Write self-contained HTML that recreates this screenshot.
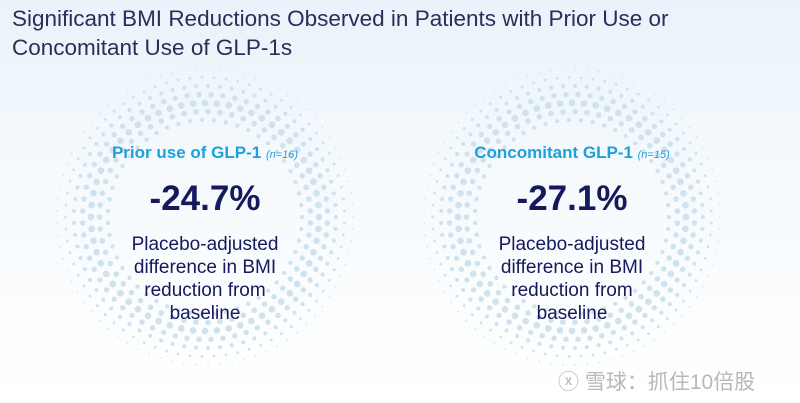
<!DOCTYPE html>
<html><head><meta charset="utf-8"><style>
body{margin:0;width:800px;height:403px;overflow:hidden;font-family:"Liberation Sans","Noto Sans CJK SC",sans-serif;}
#root{position:relative;width:800px;height:403px;background:linear-gradient(180deg,#e9f3fa 0%,#f6fafd 45%,#ffffff 100%);}
h1{position:absolute;left:12px;top:4px;margin:0;font-weight:normal;font-size:22.5px;line-height:29px;color:#2a2f5a;}
svg{position:absolute;left:0;top:0;}
.panel{position:absolute;width:300px;text-align:center;}
.lab{font-weight:bold;color:#1ea0dc;font-size:17px;}
.lab i{font-weight:normal;font-size:11px;}
.big{font-weight:bold;color:#141a5c;font-size:35px;margin-top:16px;}
.desc{color:#141a5c;font-size:19px;line-height:23px;margin-top:14px;}
.wm{position:absolute;left:558px;top:366px;color:#b8b8b8;font-size:21px;}
</style></head><body>
<div id="root">
<h1>Significant BMI Reductions Observed in Patients with Prior Use or<br>Concomitant Use of GLP-1s</h1>
<svg id="dots" width="800" height="403"></svg>
<div class="panel" style="left:55px;top:143px">
<div class="lab">Prior use of GLP-1 <i>(n=16)</i></div>
<div class="big">-24.7%</div>
<div class="desc">Placebo-adjusted<br>difference in BMI<br>reduction from<br>baseline</div>
</div>
<div class="panel" style="left:422px;top:143px">
<div class="lab">Concomitant GLP-1 <i>(n=15)</i></div>
<div class="big">-27.1%</div>
<div class="desc">Placebo-adjusted<br>difference in BMI<br>reduction from<br>baseline</div>
</div>
<div class="wm">ⓧ 雪球：抓住10倍股</div>
</div>
<script>
const centers=[[205,217],[572,217]];
const svg=document.getElementById('dots');
const ns='http://www.w3.org/2000/svg';
for(const [cx,cy] of centers){
  let k=0;
  for(let r=97;r<=152;r+=8.5,k++){
    const t=(r-97)/55;
    const size=Math.max(0.8,3.4-Math.abs(t-0.3)*4.2);
    const n=Math.round(2*Math.PI*r/12);
    const off=(k%2)*0.5;
    for(let i=0;i<n;i++){
      const a=(i+off)/n*2*Math.PI;
      const c=document.createElementNS(ns,'circle');
      c.setAttribute('cx',cx+r*Math.cos(a));
      c.setAttribute('cy',cy+r*Math.sin(a));
      c.setAttribute('r',size);
      c.setAttribute('fill','#cfe2ee');
      
      
      svg.appendChild(c);
    }
  }
}
</script>
</body></html>
